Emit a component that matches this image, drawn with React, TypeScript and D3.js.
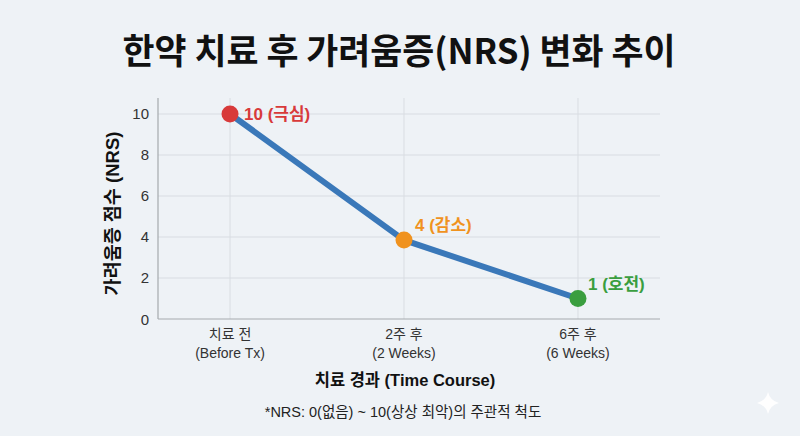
import { useEffect, useRef } from "react";
import * as d3 from "d3";

const categories = ["치료 전", "2주 후", "6주 후"];
const categoriesEn = ["(Before Tx)", "(2 Weeks)", "(6 Weeks)"];
const scores = [10, 3.85, 1];
const pointLabels = ["10 (극심)", "4 (감소)", "1 (호전)"];
const pointColors = ["#d83a3a", "#f0921e", "#3a9e3f"];
const yTicks = [0, 2, 4, 6, 8, 10];

const TITLE_FONT = "'Noto Sans CJK KR', 'Noto Sans', sans-serif";
const FONT = "'Liberation Sans', 'Noto Sans CJK KR', sans-serif";

export default function App() {
  const svgRef = useRef<SVGSVGElement>(null);

  useEffect(() => {
    if (!svgRef.current) return;
    const width = 800;
    const height = 436;
    const svg = d3.select(svgRef.current);
    svg.selectAll("*").remove();
    svg.attr("viewBox", `0 0 ${width} ${height}`);

    svg.append("rect").attr("width", width).attr("height", height).attr("fill", "#eef2f6");

    const left = 158;
    const right = 660;
    const top = 98;
    const bottom = 319;

    const x = d3.scalePoint<string>().domain(categories).range([left, 650]).padding(0.414);
    const y = d3.scaleLinear().domain([0, 10.78]).range([bottom, top]);

    // Title
    svg
      .append("text")
      .attr("x", 399)
      .attr("y", 64)
      .attr("text-anchor", "middle")
      .attr("fill", "#111")
      .style("font-family", TITLE_FONT)
      .style("font-size", "34.8px")
      .style("font-weight", "700")
      .text("한약 치료 후 가려움증(NRS) 변화 추이");

    // Grid
    svg
      .selectAll(".hgrid")
      .data(yTicks.slice(1))
      .join("line")
      .attr("x1", left)
      .attr("x2", right)
      .attr("y1", (d) => y(d))
      .attr("y2", (d) => y(d))
      .attr("stroke", "#d9dde2")
      .attr("stroke-width", 1);

    svg
      .selectAll(".vgrid")
      .data(categories)
      .join("line")
      .attr("x1", (d) => x(d)!)
      .attr("x2", (d) => x(d)!)
      .attr("y1", top)
      .attr("y2", bottom)
      .attr("stroke", "#d9dde2")
      .attr("stroke-width", 1);

    // Axes lines
    svg.append("line").attr("x1", left).attr("x2", left).attr("y1", top).attr("y2", bottom)
      .attr("stroke", "#a5a9ae").attr("stroke-width", 1.2);
    svg.append("line").attr("x1", left).attr("x2", right).attr("y1", bottom).attr("y2", bottom)
      .attr("stroke", "#a5a9ae").attr("stroke-width", 1.2);

    // Y tick labels
    svg
      .selectAll(".ytick")
      .data(yTicks)
      .join("text")
      .attr("x", left - 9)
      .attr("y", (d) => y(d) + 5.5)
      .attr("text-anchor", "end")
      .attr("fill", "#333")
      .style("font-family", FONT)
      .style("font-size", "15px")
      .text((d) => d);

    // X tick labels
    categories.forEach((c, i) => {
      const t = svg
        .append("text")
        .attr("x", x(c)!)
        .attr("text-anchor", "middle")
        .attr("fill", "#333")
        .style("font-family", FONT)
        .style("font-size", "14px");
      t.append("tspan").attr("x", x(c)!).attr("y", 339).text(c);
      t.append("tspan").attr("x", x(c)!).attr("y", 358).text(categoriesEn[i]);
    });

    // Axis titles
    svg
      .append("text")
      .attr("x", 405)
      .attr("y", 386)
      .attr("text-anchor", "middle")
      .attr("fill", "#111")
      .style("font-family", FONT)
      .style("font-size", "16.5px")
      .style("font-weight", "700")
      .text("치료 경과 (Time Course)");

    svg
      .append("text")
      .attr("transform", `translate(119,${(top + bottom) / 2 + 5}) rotate(-90)`)
      .attr("text-anchor", "middle")
      .attr("fill", "#111")
      .style("font-family", FONT)
      .style("font-size", "18.5px")
      .style("font-weight", "700")
      .text("가려움증 점수 (NRS)");

    // Line
    const line = d3
      .line<number>()
      .x((_, i) => x(categories[i])!)
      .y((d) => y(d));

    svg
      .append("path")
      .datum(scores)
      .attr("d", line)
      .attr("fill", "none")
      .attr("stroke", "#3a78b9")
      .attr("stroke-width", 6)
      .attr("stroke-linecap", "round")
      .attr("stroke-linejoin", "round");

    // Points
    svg
      .selectAll(".pt")
      .data(scores)
      .join("circle")
      .attr("cx", (_, i) => x(categories[i])!)
      .attr("cy", (d) => y(d))
      .attr("r", 8.5)
      .attr("fill", (_, i) => pointColors[i]);

    // Point labels
    const offsets = [
      [14, 6],
      [11, -9],
      [10, -8],
    ];
    svg
      .selectAll(".pl")
      .data(scores)
      .join("text")
      .attr("x", (_, i) => x(categories[i])! + offsets[i][0])
      .attr("y", (d, i) => y(d) + offsets[i][1])
      .attr("fill", (_, i) => pointColors[i])
      .style("font-family", FONT)
      .style("font-size", "17px")
      .style("font-weight", "700")
      .text((_, i) => pointLabels[i]);

    // Footnote
    svg
      .append("text")
      .attr("x", 403)
      .attr("y", 417)
      .attr("text-anchor", "middle")
      .attr("fill", "#222")
      .style("font-family", FONT)
      .style("font-size", "14.5px")
      .text("*NRS: 0(없음) ~ 10(상상 최악)의 주관적 척도");

    // Sparkle
    const cx = 768;
    const cy = 403;
    const r = 11;
    const k = 2.2;
    svg
      .append("path")
      .attr(
        "d",
        `M${cx},${cy - r} Q${cx + k},${cy - k} ${cx + r},${cy} Q${cx + k},${cy + k} ${cx},${cy + r} Q${cx - k},${cy + k} ${cx - r},${cy} Q${cx - k},${cy - k} ${cx},${cy - r}Z`
      )
      .attr("fill", "#ffffff")
      .attr("opacity", 0.9);
  }, []);

  return (
    <svg
      ref={svgRef}
      width={800}
      height={436}
      style={{ display: "block", position: "absolute", left: 0, top: 0 }}
    />
  );
}
